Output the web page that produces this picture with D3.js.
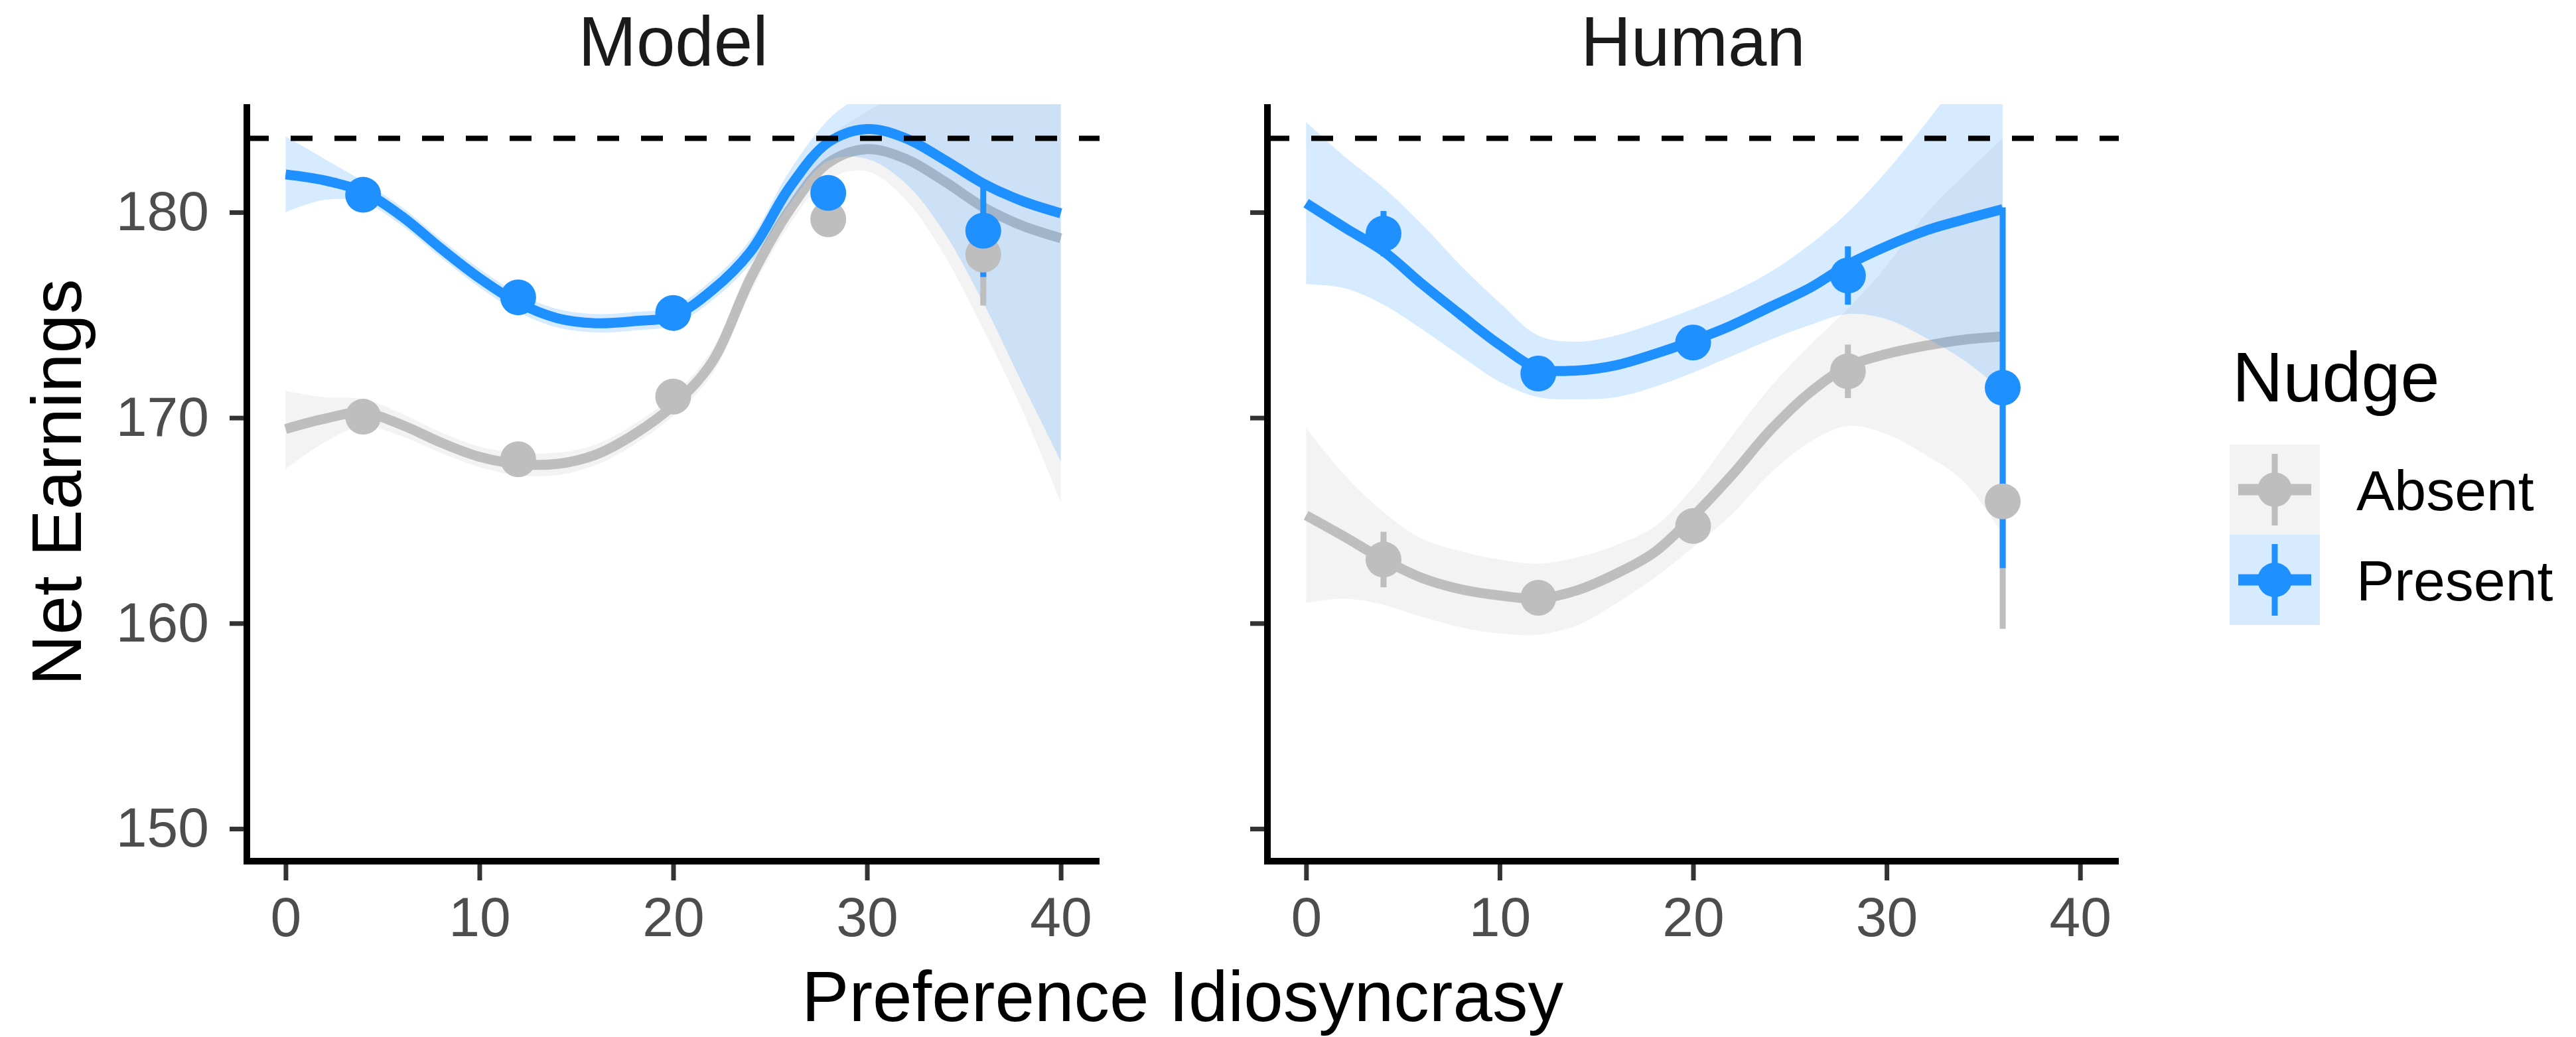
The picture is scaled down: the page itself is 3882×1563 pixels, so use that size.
<!DOCTYPE html>
<html>
<head>
<meta charset="utf-8">
<script src="https://cdn.jsdelivr.net/npm/d3@7"></script>
<style>
  html, body { margin: 0; padding: 0; background: #ffffff; }
  svg { display: block; font-family: "Liberation Sans", Arial, Helvetica, sans-serif; }
</style>
</head>
<body>
<svg id="chart" width="3882" height="1563"></svg>
<script>
// ---- Smoothed fits (with confidence band) sampled along preference idiosyncrasy ----
const modelGrid = [0, 2, 4, 6, 8, 10, 12, 14, 16, 18, 20, 22, 24, 26, 28, 30, 32, 34, 36, 38, 40];
const humanGrid = [0, 2, 4, 6, 8, 10, 12, 14, 16, 18, 20, 22, 24, 26, 28, 30, 32, 34, 36];

const modelAbsentFit  = [169.45, 169.95, 170.25, 169.65, 168.8, 168.1, 167.75, 167.75, 168.2, 169.2, 170.6, 172.7, 176.8, 180.1, 182.4, 183.07, 182.6, 181.5, 180.25, 179.35, 178.74];
const modelAbsentLow  = [167.5, 168.8, 169.6, 169.1, 168.3, 167.6, 167.2, 167.2, 167.7, 168.7, 170.1, 172.1, 176.1, 179.4, 181.6, 182.0, 180.6, 177.9, 174.3, 170.4, 165.9];
const modelAbsentHigh = [171.3, 171.0, 170.9, 170.2, 169.3, 168.6, 168.3, 168.3, 168.7, 169.7, 171.1, 173.3, 177.5, 180.8, 183.6, 184.9, 186.0, 187.3, 188.5, 190.5, 192.0];

const modelPresentFit  = [181.84, 181.55, 181.0, 179.8, 178.25, 176.8, 175.6, 174.85, 174.6, 174.7, 174.95, 176.2, 178.1, 181.2, 183.4, 184.05, 183.6, 182.55, 181.4, 180.55, 179.95];
const modelPresentLow  = [180.0, 180.6, 180.5, 179.35, 177.8, 176.35, 175.15, 174.4, 174.15, 174.25, 174.5, 175.7, 177.5, 180.4, 182.5, 182.6, 181.4, 179.0, 175.6, 171.7, 167.9];
const modelPresentHigh = [183.7, 182.6, 181.5, 180.25, 178.7, 177.25, 176.05, 175.3, 175.05, 175.15, 175.4, 176.7, 178.7, 182.0, 184.5, 186.0, 188.0, 190.0, 193.0, 196.0, 199.0];

const humanAbsentFit  = [165.25, 164.2, 163.1, 162.2, 161.65, 161.35, 161.2, 161.6, 162.4, 163.45, 165.2, 167.2, 169.4, 171.2, 172.5, 173.1, 173.5, 173.8, 173.95];
const humanAbsentLow  = [161.0, 161.2, 160.9, 160.3, 159.8, 159.5, 159.45, 159.9, 160.95, 162.2, 163.7, 165.3, 167.3, 168.8, 169.6, 169.2, 168.2, 166.9, 164.3];
const humanAbsentHigh = [169.5, 167.2, 165.4, 164.1, 163.5, 163.1, 162.9, 163.2, 163.8, 164.7, 166.6, 169.1, 171.5, 173.5, 175.3, 177.4, 179.9, 181.8, 183.6];

const humanPresentFit  = [180.44, 179.25, 178.1, 176.5, 175.0, 173.55, 172.4, 172.3, 172.55, 173.1, 173.75, 174.5, 175.4, 176.3, 177.45, 178.35, 179.1, 179.65, 180.15];
const humanPresentLow  = [176.5, 176.3, 175.5, 174.3, 173.0, 171.75, 171.0, 170.9, 171.0, 171.5, 172.2, 173.0, 173.8, 174.5, 175.05, 174.8, 173.9, 172.8, 171.3];
const humanPresentHigh = [184.4, 182.7, 181.2, 179.4, 177.4, 175.6, 174.0, 173.7, 174.0, 174.6, 175.3, 176.1, 177.1, 178.4, 180.0, 182.0, 184.3, 186.8, 189.5];

// ---- Binned means with standard errors ----
const binX = [4, 12, 20, 28, 36];
const modelAbsentMean  = [170.05, 167.98, 171.03, 179.66, 177.94];
const modelAbsentSE    = [0.4, 0.4, 0.4, 0.5, 2.48];
const modelPresentMean = [180.85, 175.86, 175.1, 180.94, 179.1];
const modelPresentSE   = [0.4, 0.4, 0.4, 0.5, 2.25];
const humanAbsentMean  = [163.1, 161.24, 164.73, 172.26, 165.93];
const humanAbsentSE    = [1.35, 0.6, 0.6, 1.3, 6.2];
const humanPresentMean = [178.96, 172.15, 173.66, 176.92, 171.46];
const humanPresentSE   = [1.1, 0.5, 0.5, 1.42, 8.78];

// Optimal earnings benchmark
const optimalEarnings = 183.6;

// Axis ticks and labels
const xTicks = [0, 10, 20, 30, 40];
const yTicks = [150, 160, 170, 180];
const panelTitles = ["Model", "Human"];
const nudgeLevels = ["Absent", "Present"];
const nudgeColors = { Absent: "#BEBEBE", Present: "#1E90FF" };
const bandAlpha = 0.18;

// ---- Assemble series ----
function fitSeries(grid, fit, low, high) {
  return grid.map((x, i) => ({ x, y: fit[i], lo: low[i], hi: high[i] }));
}
function binSeries(mean, se) {
  return binX.map((x, i) => ({ x, y: mean[i], se: se[i] }));
}

const panels = [
  {
    title: panelTitles[0], x0: 372, x1: 1657, showYLabels: true,
    fits: { Absent: fitSeries(modelGrid, modelAbsentFit, modelAbsentLow, modelAbsentHigh),
            Present: fitSeries(modelGrid, modelPresentFit, modelPresentLow, modelPresentHigh) },
    bins: { Absent: binSeries(modelAbsentMean, modelAbsentSE),
            Present: binSeries(modelPresentMean, modelPresentSE) }
  },
  {
    title: panelTitles[1], x0: 1910, x1: 3193, showYLabels: false,
    fits: { Absent: fitSeries(humanGrid, humanAbsentFit, humanAbsentLow, humanAbsentHigh),
            Present: fitSeries(humanGrid, humanPresentFit, humanPresentLow, humanPresentHigh) },
    bins: { Absent: binSeries(humanAbsentMean, humanAbsentSE),
            Present: binSeries(humanPresentMean, humanPresentSE) }
  }
];

// ---- Layout ----
const panelTop = 157, panelBottom = 1298;
const svg = d3.select("#chart");
svg.append("rect").attr("width", 3882).attr("height", 1563).attr("fill", "#ffffff");

const y = d3.scaleLinear().domain([148.42, 185.26]).range([panelBottom, panelTop]);

const lineW = 15, barW = 9, pointR = 27;
const tickColor = "#333333", tickLabelColor = "#4D4D4D";

panels.forEach((p, pi) => {
  const x = d3.scaleLinear().domain([-2, 42]).range([p.x0, p.x1]);
  const g = svg.append("g");

  const clipId = "clip-" + pi;
  svg.append("defs").append("clipPath").attr("id", clipId)
    .append("rect").attr("x", p.x0).attr("y", panelTop)
    .attr("width", p.x1 - p.x0).attr("height", panelBottom - panelTop);

  const plot = g.append("g").attr("clip-path", `url(#${clipId})`);

  const area = d3.area().x(d => x(d.x)).y0(d => y(d.lo)).y1(d => y(d.hi))
    .curve(d3.curveCatmullRom.alpha(0.5));
  const line = d3.line().x(d => x(d.x)).y(d => y(d.y))
    .curve(d3.curveCatmullRom.alpha(0.5));

  // Smooth fits: band then line, one group after the other
  nudgeLevels.forEach(level => {
    plot.append("path").datum(p.fits[level])
      .attr("d", area).attr("fill", nudgeColors[level]).attr("fill-opacity", bandAlpha);
    plot.append("path").datum(p.fits[level])
      .attr("d", line).attr("fill", "none").attr("stroke", nudgeColors[level])
      .attr("stroke-width", lineW);
  });

  // Optimal benchmark
  plot.append("line")
    .attr("x1", p.x0).attr("x2", p.x1)
    .attr("y1", y(optimalEarnings)).attr("y2", y(optimalEarnings))
    .attr("stroke", "#000").attr("stroke-width", 8).attr("stroke-dasharray", "33 33");

  // Error bars first, then points
  nudgeLevels.forEach(level => {
    plot.selectAll(null).data(p.bins[level]).enter().append("line")
      .attr("x1", d => x(d.x)).attr("x2", d => x(d.x))
      .attr("y1", d => y(d.y - d.se)).attr("y2", d => y(d.y + d.se))
      .attr("stroke", nudgeColors[level]).attr("stroke-width", barW);
  });
  nudgeLevels.forEach(level => {
    plot.selectAll(null).data(p.bins[level]).enter().append("circle")
      .attr("cx", d => x(d.x)).attr("cy", d => y(d.y)).attr("r", pointR)
      .attr("fill", nudgeColors[level]);
  });

  // Y axis
  const yAxis = d3.axisLeft(y).tickValues(yTicks).tickSize(26).tickPadding(31)
    .tickFormat(p.showYLabels ? d3.format("d") : () => "");
  const ya = g.append("g").attr("transform", `translate(${p.x0},0)`).call(yAxis);
  ya.select(".domain").remove();
  ya.selectAll(".tick line").attr("stroke", tickColor).attr("stroke-width", 7);
  ya.selectAll(".tick text").attr("fill", tickLabelColor).attr("font-size", 84)
    .attr("font-family", "Liberation Sans, Arial, sans-serif");

  // X axis
  const xAxis = d3.axisBottom(x).tickValues(xTicks).tickSize(29).tickPadding(24)
    .tickFormat(d3.format("d"));
  const xa = g.append("g").attr("transform", `translate(0,${panelBottom})`).call(xAxis);
  xa.select(".domain").remove();
  xa.selectAll(".tick line").attr("stroke", tickColor).attr("stroke-width", 7);
  xa.selectAll(".tick text").attr("fill", tickLabelColor).attr("font-size", 84)
    .attr("font-family", "Liberation Sans, Arial, sans-serif");

  // Axis lines
  g.append("line").attr("x1", p.x0).attr("x2", p.x0)
    .attr("y1", panelTop).attr("y2", panelBottom + 5)
    .attr("stroke", "#000").attr("stroke-width", 10);
  g.append("line").attr("x1", p.x0 - 5).attr("x2", p.x1)
    .attr("y1", panelBottom).attr("y2", panelBottom)
    .attr("stroke", "#000").attr("stroke-width", 10);

  // Facet title
  g.append("text").attr("x", (p.x0 + p.x1) / 2).attr("y", 99)
    .attr("text-anchor", "middle").attr("font-size", 105).attr("fill", "#1A1A1A")
    .text(p.title);
});

// Axis titles
svg.append("text").attr("transform", "translate(122,727) rotate(-90)")
  .attr("text-anchor", "middle").attr("font-size", 106).attr("fill", "#000")
  .text("Net Earnings");
svg.append("text").attr("x", 1782).attr("y", 1539)
  .attr("text-anchor", "middle").attr("font-size", 107).attr("fill", "#000")
  .text("Preference Idiosyncrasy");

// Legend
const legend = svg.append("g");
legend.append("text").attr("x", 3364).attr("y", 605)
  .attr("font-size", 106).attr("fill", "#000").text("Nudge");
const keyX = 3360, keyW = 136, keyH = 136, keyTop = 670;
nudgeLevels.forEach((level, i) => {
  const ky = keyTop + i * keyH;
  const cx = keyX + keyW / 2, cy = ky + keyH / 2;
  legend.append("rect").attr("x", keyX).attr("y", ky).attr("width", keyW).attr("height", keyH)
    .attr("fill", nudgeColors[level]).attr("fill-opacity", bandAlpha);
  legend.append("line").attr("x1", keyX + 13).attr("x2", keyX + keyW - 13)
    .attr("y1", cy).attr("y2", cy)
    .attr("stroke", nudgeColors[level]).attr("stroke-width", 17);
  legend.append("line").attr("x1", cx).attr("x2", cx)
    .attr("y1", cy - 54).attr("y2", cy + 54)
    .attr("stroke", nudgeColors[level]).attr("stroke-width", barW);
  legend.append("circle").attr("cx", cx).attr("cy", cy).attr("r", 26)
    .attr("fill", nudgeColors[level]);
  legend.append("text").attr("x", 3551).attr("y", cy + 31)
    .attr("font-size", 86).attr("fill", "#000").text(level);
});
</script>
</body>
</html>
